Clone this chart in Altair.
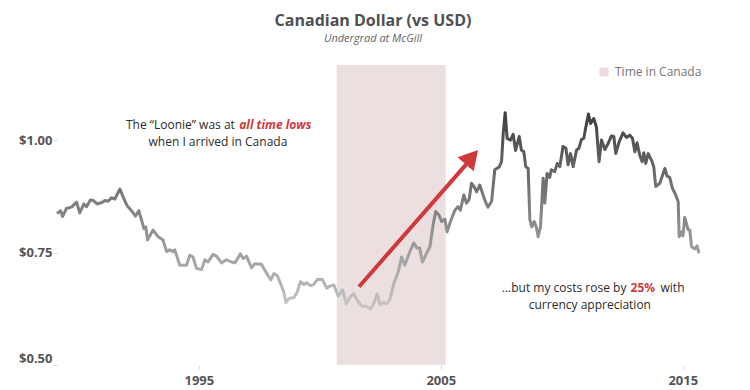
import altair as alt
import pandas as pd

# ---- data ----
years = [1989.14, 1989.29, 1989.37, 1989.53, 1989.74, 1989.95, 1990.08, 1990.25, 1990.36, 1990.52,
         1990.63, 1990.80, 1990.98, 1991.12, 1991.25, 1991.39, 1991.53, 1991.74, 1991.87, 1992.04,
         1992.22, 1992.38, 1992.52, 1992.63, 1992.73, 1992.81, 1992.88, 1993.11, 1993.32, 1993.52,
         1993.67, 1993.80, 1993.94, 1994.01, 1994.21, 1994.49, 1994.63, 1994.76, 1994.90, 1995.11,
         1995.25, 1995.38, 1995.59, 1995.73, 1995.94, 1996.14, 1996.35, 1996.49, 1996.72, 1996.83,
         1996.97, 1997.18, 1997.31, 1997.59, 1997.77, 1997.98, 1998.10, 1998.24, 1998.38, 1998.51,
         1998.60, 1998.73, 1998.93, 1999.06, 1999.20, 1999.34, 1999.45, 1999.62, 1999.75, 1999.89,
         2000.11, 2000.28, 2000.44, 2000.58, 2000.76, 2000.94, 2001.10, 2001.27, 2001.40, 2001.58,
         2001.76, 2001.93, 2002.10, 2002.23, 2002.37, 2002.48, 2002.62, 2002.76, 2002.89, 2003.06,
         2003.24, 2003.38, 2003.51, 2003.72, 2003.88, 2004.02, 2004.13, 2004.24, 2004.41, 2004.55,
         2004.68, 2004.79, 2004.93, 2005.03, 2005.17, 2005.26, 2005.40, 2005.58, 2005.71, 2005.81,
         2005.95, 2006.06, 2006.17, 2006.27, 2006.38, 2006.48, 2006.61, 2006.68, 2006.82, 2006.95,
         2007.10, 2007.23, 2007.41, 2007.51, 2007.58, 2007.66, 2007.74, 2007.88, 2007.99, 2008.09,
         2008.24, 2008.33, 2008.43, 2008.51, 2008.61, 2008.68, 2008.76, 2008.86, 2008.95, 2009.02,
         2009.12, 2009.23, 2009.30, 2009.39, 2009.50, 2009.57, 2009.71, 2009.81, 2009.92, 2010.05,
         2010.17, 2010.26, 2010.36, 2010.47, 2010.61, 2010.71, 2010.81, 2010.91, 2010.99, 2011.10,
         2011.19, 2011.32, 2011.43, 2011.54, 2011.64, 2011.78, 2011.91, 2012.05, 2012.15, 2012.23,
         2012.37, 2012.53, 2012.67, 2012.81, 2012.92, 2013.02, 2013.11, 2013.22, 2013.32, 2013.39,
         2013.47, 2013.57, 2013.71, 2013.80, 2013.88, 2014.05, 2014.26, 2014.35, 2014.46, 2014.57,
         2014.71, 2014.81, 2014.85, 2014.95, 2015.01, 2015.08, 2015.22, 2015.29, 2015.36, 2015.50,
         2015.59, 2015.67]

rates = [0.837, 0.843, 0.830, 0.848, 0.851, 0.862, 0.838, 0.858, 0.852, 0.867,
         0.866, 0.858, 0.861, 0.866, 0.864, 0.872, 0.869, 0.891, 0.874, 0.854,
         0.843, 0.831, 0.843, 0.823, 0.803, 0.807, 0.778, 0.800, 0.785, 0.778,
         0.752, 0.756, 0.752, 0.756, 0.722, 0.722, 0.744, 0.740, 0.715, 0.712,
         0.734, 0.729, 0.746, 0.742, 0.727, 0.734, 0.729, 0.727, 0.747, 0.737,
         0.742, 0.716, 0.725, 0.724, 0.707, 0.689, 0.703, 0.699, 0.681, 0.663,
         0.639, 0.648, 0.650, 0.661, 0.685, 0.679, 0.683, 0.676, 0.679, 0.690,
         0.690, 0.671, 0.676, 0.678, 0.653, 0.667, 0.636, 0.653, 0.658, 0.641,
         0.630, 0.631, 0.624, 0.637, 0.658, 0.634, 0.639, 0.636, 0.645, 0.681,
         0.707, 0.740, 0.722, 0.752, 0.771, 0.760, 0.760, 0.729, 0.748, 0.763,
         0.811, 0.841, 0.833, 0.819, 0.824, 0.796, 0.819, 0.844, 0.852, 0.844,
         0.878, 0.860, 0.868, 0.904, 0.896, 0.885, 0.900, 0.889, 0.866, 0.851,
         0.864, 0.934, 0.940, 0.952, 1.015, 1.061, 1.004, 1.000, 1.013, 0.977,
         1.008, 0.978, 0.974, 0.941, 0.937, 0.823, 0.807, 0.819, 0.806, 0.785,
         0.807, 0.915, 0.860, 0.926, 0.917, 0.934, 0.930, 0.948, 0.941, 0.986,
         0.982, 0.945, 0.970, 0.941, 0.978, 0.982, 1.001, 1.004, 1.028, 1.058,
         1.037, 1.048, 1.029, 0.952, 1.000, 0.979, 0.992, 1.009, 1.008, 0.970,
         0.996, 1.016, 1.006, 1.011, 1.004, 0.974, 0.994, 0.967, 0.952, 0.972,
         0.948, 0.970, 0.955, 0.941, 0.897, 0.904, 0.937, 0.920, 0.917, 0.893,
         0.878, 0.863, 0.785, 0.796, 0.787, 0.828, 0.801, 0.800, 0.763, 0.758,
         0.765, 0.748]

stay_start = [2000.7]
stay_end = [2005.2]
stay_label = ["Time in Canada"]

x_ticks = [1995, 2005, 2015]
y_ticks = [0.50, 0.75, 1.00]

arrow_tail = [2001.62, 0.674]
arrow_neck = [2006.05, 0.946]
arrow_tip = [2006.54, 0.978]

# annotation texts (anchor year, anchor value, text)
note1a = [1996.49, 1.033, "The \u201cLoonie\u201d was at"]
note1b = [1996.67, 1.033, "all time lows"]
note1c = [1995.79, 0.996, "when I arrived in Canada"]
note2a = [2012.67, 0.671, "...but my costs rose by"]
note2b = [2013.35, 0.671, "25%"]
note2c = [2014.08, 0.671, "with"]
note2d = [2011.16, 0.634, "currency appreciation"]

# ---- styling ----
W, H = 642, 300
FONT = "Open Sans"
RED = "#d0393b"
TXT = "#2b2b2b"

df = pd.DataFrame({"year": years, "rate": rates})
stay = pd.DataFrame({"start": stay_start, "end": stay_end, "label": stay_label})

x_scale = alt.Scale(domain=[min(years), max(years)], nice=False, zero=False)
y_scale = alt.Scale(domain=[0.5, 1.167], nice=False, zero=False)

x_axis = alt.Axis(values=x_ticks, format="d", title=None, domain=False, grid=False,
                  tickColor="#dddddd", tickSize=4, labelFont=FONT, labelFontWeight="bold",
                  labelFontSize=13, labelColor="#555555", labelPadding=5)
y_axis = alt.Axis(values=y_ticks, format="$.2f", title=None, domain=False, grid=False,
                  tickColor="#dddddd", tickSize=4, labelFont=FONT, labelFontWeight="bold",
                  labelFontSize=13, labelColor="#555555", labelPadding=1, labelFlush=True)


def X(field):
    return alt.X(field, type="quantitative", scale=x_scale, axis=x_axis)


def Y(field):
    return alt.Y(field, type="quantitative", scale=y_scale, axis=y_axis)


band = alt.Chart(stay).mark_rect().encode(
    x=X("start"), x2="end",
    y=alt.value(0), y2=alt.value(H),
    color=alt.Color("label:N", scale=alt.Scale(range=["#ecdfdf"]),
                    legend=alt.Legend(title=None, orient="none", legendX=541, legendY=1,
                                      symbolType="square", symbolSize=81, symbolStrokeWidth=0,
                                      labelFont=FONT, labelFontSize=12, labelColor="#777777",
                                      labelOffset=5, padding=0)),
)

line = alt.Chart(df).mark_line(
    strokeWidth=3, strokeJoin="round",
    stroke=alt.Gradient(gradient="linear",
                        stops=[alt.GradientStop(color="#c6c6c6", offset=0),
                               alt.GradientStop(color="#3f3f3f", offset=1)],
                        x1=0, x2=0, y1=1, y2=0),
).encode(x=X("year"), y=Y("rate"))

arrow_df = pd.DataFrame({"x": [arrow_tail[0]], "y": [arrow_tail[1]],
                         "x2": [arrow_neck[0]], "y2": [arrow_neck[1]]})
shaft = alt.Chart(arrow_df).mark_rule(color=RED, strokeWidth=4).encode(
    x=X("x"), y=Y("y"), x2="x2", y2="y2")

tip_df = pd.DataFrame({"x": [arrow_tip[0]], "y": [arrow_tip[1]]})
head = alt.Chart(tip_df).mark_point(shape="M0,0L-0.56,1L0.56,1Z", filled=True, color=RED,
                                    opacity=1, size=1444, angle=41, strokeWidth=0).encode(
    x=X("x"), y=Y("y"))


def note(item, align, color=TXT, weight="normal", style="normal"):
    d = pd.DataFrame({"x": [item[0]], "y": [item[1]], "t": [item[2]]})
    return alt.Chart(d).mark_text(align=align, baseline="middle", font=FONT, fontSize=12,
                                  color=color, fontWeight=weight, fontStyle=style).encode(
        x=X("x"), y=Y("y"), text="t:N")


notes = [
    note(note1a, "right"),
    note(note1b, "left", RED, "bold", "italic"),
    note(note1c, "center"),
    note(note2a, "right"),
    note(note2b, "center", RED, "bold"),
    note(note2c, "left"),
    note(note2d, "center"),
]

chart = alt.layer(band, line, shaft, head, *notes).properties(
    width=W, height=H,
    padding={"left": 49, "top": 57, "right": 40, "bottom": 25},
    autosize=alt.AutoSizeParams(type="none"),
    title=alt.TitleParams("Canadian Dollar (vs USD)", subtitle="Undergrad at McGill",
                          font=FONT, fontSize=16, fontWeight="bold", color="#505050",
                          subtitleFont=FONT, subtitleFontSize=11, subtitleFontStyle="italic",
                          subtitleColor="#666666", subtitlePadding=4, anchor="middle",
                          dx=-5, offset=21),
).configure_view(stroke=None)

chart.save("out.html", embed_options={"renderer": "svg", "actions": False})
